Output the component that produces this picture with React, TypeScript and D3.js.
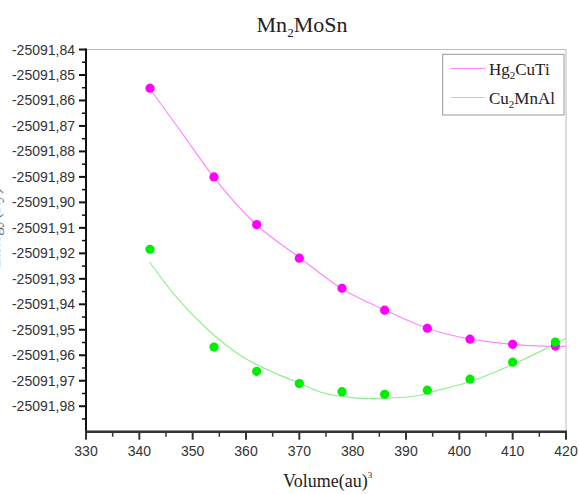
import React from "react";
import * as d3 from "d3";

const volumes = [342, 354, 362, 370, 378, 386, 394, 402, 410, 418];
const hgEnergy = [-25091.8552, -25091.8900, -25091.9087, -25091.9219, -25091.9337, -25091.9423, -25091.9494, -25091.9537, -25091.9557, -25091.9564];
const cuEnergy = [-25091.9184, -25091.9568, -25091.9663, -25091.9711, -25091.9743, -25091.9753, -25091.9737, -25091.9694, -25091.9627, -25091.9548];

const hgFitV = [341.9, 347.6, 353.9, 361.9, 370, 377.9, 386.1, 394.1, 402.1, 410.1, 418.3, 420];
const hgFitE = [-25091.8552, -25091.8716, -25091.8900, -25091.9087, -25091.9216, -25091.9338, -25091.9423, -25091.9495, -25091.9537, -25091.9557, -25091.9565, -25091.9565];
const cuFitV = [341.9, 346.4, 352.6, 358.9, 366.4, 370, 373.9, 377.9, 383.3, 386.1, 392.6, 394.1, 402.1, 410.1, 416.9, 420];
const cuFitE = [-25091.9234, -25091.9358, -25091.9495, -25091.9600, -25091.9679, -25091.9709, -25091.9744, -25091.9761, -25091.9770, -25091.9769, -25091.9757, -25091.9748, -25091.9703, -25091.9635, -25091.9567, -25091.9533];

const xTicks = [330, 340, 350, 360, 370, 380, 390, 400, 410, 420];
const yTicks = [-25091.84, -25091.85, -25091.86, -25091.87, -25091.88, -25091.89, -25091.90, -25091.91, -25091.92, -25091.93, -25091.94, -25091.95, -25091.96, -25091.97, -25091.98];

const seriesNames = ["Hg", "Cu"];

export default function App() {
  const W = 579, H = 494;
  const L = 86, R = 566, T = 49.5, B = 431.7;
  const x = d3.scaleLinear().domain([330, 420]).range([L, R]);
  const y = d3.scaleLinear().domain([-25091.99, -25091.84]).range([B, T]);

  const line = d3.line<[number, number]>().x(d => x(d[0])).y(d => y(d[1])).curve(d3.curveMonotoneX);
  const hgPath = line(hgFitV.map((v, i) => [v, hgFitE[i]]) as [number, number][]) || "";
  const cuPath = line(cuFitV.map((v, i) => [v, cuFitE[i]]) as [number, number][]) || "";

  const pink = "#ff00ff", pinkLine = "#ff88ff";
  const green = "#00ee00", greenLine = "#8ef08e";

  const minorX = d3.range(335, 420, 10);
  const minorY = d3.range(0, 15).map(i => -25091.845 - i * 0.01);

  const fmtY = (v: number) => v.toFixed(2).replace(".", ",");
  const sans = "'Liberation Sans', Arial, sans-serif";
  const serif = "'Liberation Serif', 'Times New Roman', serif";

  return (
    <svg width={W} height={H} style={{ position: "absolute", left: 0, top: 0, background: "#fff" }} fontFamily={sans}>
      <rect x={0} y={0} width={W} height={H} fill="#fff" />
      {/* title */}
      <text x={302} y={32} textAnchor="middle" fontFamily={serif} fontSize={22} fill="#222">
        Mn<tspan fontSize={13} dy={5}>2</tspan><tspan dy={-5}>MoSn</tspan>
      </text>
      {/* frame top/right */}
      <line x1={L} x2={R} y1={T} y2={T} stroke="#bbb" strokeWidth={1} />
      <line x1={R} x2={R} y1={T} y2={B} stroke="#bbb" strokeWidth={1} />
      {/* fit lines */}
      <path d={hgPath} fill="none" stroke={pinkLine} strokeWidth={1.2} />
      <path d={cuPath} fill="none" stroke={greenLine} strokeWidth={1.2} />
      {/* points */}
      {volumes.map((v, i) => (
        <circle key={"h" + i} cx={x(v)} cy={y(hgEnergy[i])} r={4.6} fill={pink} />
      ))}
      {volumes.map((v, i) => (
        <circle key={"c" + i} cx={x(v)} cy={y(cuEnergy[i])} r={4.6} fill={green} />
      ))}
      {/* y axis */}
      <line x1={L} x2={L} y1={T - 1} y2={B + 1} stroke="#111" strokeWidth={2} />
      {yTicks.map((t, i) => (
        <g key={"yt" + i}>
          <line x1={L - 7} x2={L} y1={y(t)} y2={y(t)} stroke="#111" strokeWidth={2} />
          <text x={75} y={y(t) + 5} textAnchor="end" fontSize={14} fill="#333">{fmtY(t)}</text>
        </g>
      ))}
      {minorY.map((t, i) => (
        <line key={"ym" + i} x1={L - 4} x2={L} y1={y(t)} y2={y(t)} stroke="#111" strokeWidth={1.5} />
      ))}
      {/* x axis */}
      <line x1={L - 1} x2={R + 1} y1={B} y2={B} stroke="#333" strokeWidth={2.5} />
      {xTicks.map((t, i) => (
        <g key={"xt" + i}>
          <line x1={x(t)} x2={x(t)} y1={B} y2={B + 8} stroke="#333" strokeWidth={2} />
          <text x={x(t)} y={456} textAnchor="middle" fontSize={14} fill="#333">{t}</text>
        </g>
      ))}
      {minorX.map((t, i) => (
        <line key={"xm" + i} x1={x(t)} x2={x(t)} y1={B} y2={B + 5} stroke="#333" strokeWidth={1.5} />
      ))}
      {/* x label */}
      <text x={283} y={487} fontFamily={serif} fontSize={18} fill="#222">
        Volume(au)<tspan fontSize={9} dy={-9}>3</tspan>
      </text>
      {/* y label (mostly outside the picture, as in the reference) */}
      <text transform="translate(0,228) rotate(-90)" textAnchor="middle" fontFamily={serif} fontSize={17} fill="#666">Energy(Ry)</text>
      {/* legend */}
      <rect x={442.7} y={54.3} width={121.3} height={60.7} fill="#fff" stroke="#999" strokeWidth={1} />
      <line x1={450.7} x2={485} y1={68.5} y2={68.5} stroke={pinkLine} strokeWidth={1.2} />
      <line x1={450.7} x2={485} y1={97.5} y2={97.5} stroke={greenLine} strokeWidth={1.2} />
      <text x={489} y={75} fontFamily={serif} fontSize={17} fill="#222" data-series={seriesNames[0]}>
        Hg<tspan fontSize={11} dy={4}>2</tspan><tspan dy={-4}>CuTi</tspan>
      </text>
      <text x={489} y={104} fontFamily={serif} fontSize={17} fill="#222" data-series={seriesNames[1]}>
        Cu<tspan fontSize={11} dy={4}>2</tspan><tspan dy={-4}>MnAl</tspan>
      </text>
    </svg>
  );
}
